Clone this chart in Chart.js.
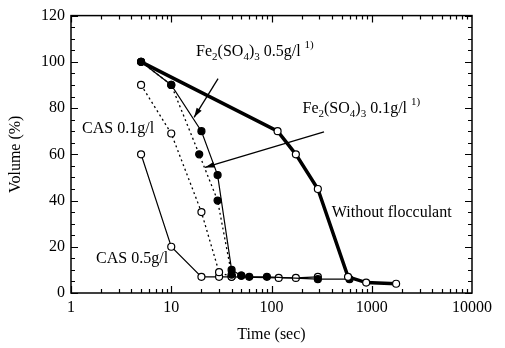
<!DOCTYPE html>
<html>
<head>
<meta charset="utf-8">
<script src="https://cdn.jsdelivr.net/npm/chart.js@4/dist/chart.umd.min.js"></script>
<style>
  html, body { margin: 0; padding: 0; background: #fff; }
  #wrap { width: 505px; height: 348px; }
</style>
</head>
<body>
<div id="wrap"><canvas id="c" width="505" height="348"></canvas></div>
<script>
// time in seconds, volume in %
const withoutTime = [5, 115, 175, 290, 580, 880, 1750];
const withoutVol  = [100, 70, 60, 45, 7, 4.5, 4];

const fe05Time = [5, 10, 20, 29, 40, 50, 60, 90, 290, 600];
const fe05Vol  = [100, 90, 70, 51, 10, 7.5, 7, 7, 6, 6];

const fe01Time = [5, 10, 19, 29, 40, 50];
const fe01Vol  = [100, 90, 60, 40, 8, 7.5];

const cas01Time = [5, 10, 20, 30, 40];
const cas01Vol  = [90, 69, 35, 9, 7];

const cas05Time = [5, 10, 20, 30, 40, 118, 175, 290];
const cas05Vol  = [60, 20, 7, 7, 7, 6.5, 6.5, 7];

const xTickLabels = [1, 10, 100, 1000, 10000];
const yTickLabels = [0, 20, 40, 60, 80, 100, 120];

const SERIF = "'Liberation Serif', 'DejaVu Serif', serif";

function pts(xs, ys) {
    return xs.map((x, i) => ({ x: x, y: ys[i] }));
}

// labels and arrows, anchored in data coordinates
const notes = [
    { parts: [["Fe", 0], ["2", 1], ["(SO", 0], ["4", 1], [")", 0], ["3", 1], [" 0.5g/l ", 0], ["1)", -1]], x: 17.7, y: 104.5 },
    { parts: [["Fe", 0], ["2", 1], ["(SO", 0], ["4", 1], [")", 0], ["3", 1], [" 0.1g/l ", 0], ["1)", -1]], x: 204, y: 80 },
    { parts: [["CAS 0.1g/l", 0]], x: 1.29, y: 71.5 },
    { parts: [["CAS 0.5g/l", 0]], x: 1.78, y: 15 },
    { parts: [["Without flocculant", 0]], x: 400, y: 35 }
];
const arrows = [
    { from: [29.3, 92.7], to: [16.9, 76] },
    { from: [334, 69.7], to: [21.7, 54.3] }
];

const decor = {
    id: 'decor',
    afterDraw(chart) {
        const ctx = chart.ctx;
        const xs = chart.scales.x, ys = chart.scales.y;
        const a = chart.chartArea;
        ctx.save();
        ctx.strokeStyle = '#000';
        ctx.lineWidth = 1.5;
        ctx.strokeRect(a.left, a.top, a.right - a.left, a.bottom - a.top);

        ctx.lineWidth = 1.2;
        ctx.beginPath();
        // x ticks (log)
        for (let d = 1; d < 10000; d *= 10) {
            for (let m = 1; m < 10; m++) {
                const px = Math.round(xs.getPixelForValue(d * m)) + 0.5;
                const len = m === 1 ? 7 : 4;
                ctx.moveTo(px, a.bottom); ctx.lineTo(px, a.bottom - len);
                ctx.moveTo(px, a.top); ctx.lineTo(px, a.top + len);
            }
        }
        // y ticks
        for (let v = 0; v <= 120; v += 5) {
            const py = Math.round(ys.getPixelForValue(v)) + 0.5;
            const len = v % 20 === 0 ? 7 : 4;
            ctx.moveTo(a.left, py); ctx.lineTo(a.left + len, py);
            ctx.moveTo(a.right, py); ctx.lineTo(a.right - len, py);
        }
        ctx.stroke();

        // arrows
        ctx.lineWidth = 1.3;
        arrows.forEach(ar => {
            const x1 = xs.getPixelForValue(ar.from[0]), y1 = ys.getPixelForValue(ar.from[1]);
            const x2 = xs.getPixelForValue(ar.to[0]), y2 = ys.getPixelForValue(ar.to[1]);
            ctx.beginPath();
            ctx.moveTo(x1, y1); ctx.lineTo(x2, y2);
            ctx.stroke();
            const ang = Math.atan2(y2 - y1, x2 - x1);
            ctx.beginPath();
            ctx.moveTo(x2, y2);
            ctx.lineTo(x2 - 10 * Math.cos(ang - 0.3), y2 - 10 * Math.sin(ang - 0.3));
            ctx.lineTo(x2 - 10 * Math.cos(ang + 0.3), y2 - 10 * Math.sin(ang + 0.3));
            ctx.closePath();
            ctx.fillStyle = '#000';
            ctx.fill();
        });

        // text notes
        ctx.fillStyle = '#000';
        ctx.textBaseline = 'alphabetic';
        ctx.textAlign = 'left';
        notes.forEach(n => {
            let px = xs.getPixelForValue(n.x);
            const base = ys.getPixelForValue(n.y) + 5;
            n.parts.forEach(([t, kind]) => {
                if (kind === 0) {
                    ctx.font = '16px ' + SERIF;
                    ctx.fillText(t, px, base);
                } else if (kind === 1) {
                    ctx.font = '11px ' + SERIF;
                    ctx.fillText(t, px, base + 4);
                } else {
                    ctx.font = '11px ' + SERIF;
                    ctx.fillText(t, px, base - 8);
                }
                px += ctx.measureText(t).width;
            });
        });
        ctx.restore();
    }
};

new Chart(document.getElementById('c').getContext('2d'), {
    type: 'scatter',
    data: {
        datasets: [{
            label: 'Without flocculant',
            data: pts(withoutTime, withoutVol),
            showLine: true,
            borderColor: '#000',
            borderWidth: 3.5,
            pointRadius: 3.5,
            pointBorderWidth: 1.2,
            pointBackgroundColor: withoutTime.map((t, i) => i === 0 ? '#000' : '#fff'),
            pointBorderColor: '#000'
        }, {
            label: 'Fe2(SO4)3 0.5g/l',
            data: pts(fe05Time, fe05Vol),
            showLine: true,
            borderColor: '#000',
            borderWidth: 1.2,
            pointRadius: 3.5,
            pointBackgroundColor: '#000',
            pointBorderColor: '#000'
        }, {
            label: 'Fe2(SO4)3 0.1g/l',
            data: pts(fe01Time, fe01Vol),
            showLine: true,
            borderColor: '#000',
            borderWidth: 1.3,
            borderDash: [2, 3],
            pointRadius: 3.5,
            pointBackgroundColor: '#000',
            pointBorderColor: '#000'
        }, {
            label: 'CAS 0.1g/l',
            data: pts(cas01Time, cas01Vol),
            showLine: true,
            borderColor: '#000',
            borderWidth: 1.3,
            borderDash: [2, 3],
            pointRadius: 3.5,
            pointBorderWidth: 1.2,
            pointBackgroundColor: '#fff',
            pointBorderColor: '#000'
        }, {
            label: 'CAS 0.5g/l',
            data: pts(cas05Time, cas05Vol),
            showLine: true,
            borderColor: '#000',
            borderWidth: 1.2,
            pointRadius: 3.5,
            pointBorderWidth: 1.2,
            pointBackgroundColor: '#fff',
            pointBorderColor: '#000'
        }]
    },
    plugins: [decor],
    options: {
        responsive: false,
        animation: false,
        layout: { padding: { top: 12, right: 33, left: 0, bottom: 0 } },
        plugins: { legend: { display: false }, tooltip: { enabled: false } },
        scales: {
            x: {
                type: 'logarithmic',
                min: 1,
                max: 10000,
                afterBuildTicks: s => { s.ticks = xTickLabels.map(v => ({ value: v })); },
                afterFit: s => { s.height = 55; },
                grid: { display: false, drawTicks: false },
                border: { display: false },
                ticks: {
                    color: '#000',
                    font: { family: SERIF, size: 16 },
                    padding: 5,
                    maxRotation: 0,
                    autoSkip: false,
                    callback: v => String(v)
                },
                title: {
                    display: true,
                    text: 'Time (sec)',
                    color: '#000',
                    font: { family: SERIF, size: 16 },
                    padding: { top: 3 }
                }
            },
            y: {
                min: 0,
                max: 120,
                afterBuildTicks: s => { s.ticks = yTickLabels.map(v => ({ value: v })); },
                afterFit: s => { s.width = 71; },
                grid: { display: false, drawTicks: false },
                border: { display: false },
                ticks: {
                    color: '#000',
                    font: { family: SERIF, size: 16 },
                    padding: 6
                },
                title: {
                    display: true,
                    text: 'Volume (%)',
                    color: '#000',
                    font: { family: SERIF, size: 16 },
                    padding: { top: 6, bottom: 4 }
                }
            }
        }
    }
});
</script>
</body>
</html>
